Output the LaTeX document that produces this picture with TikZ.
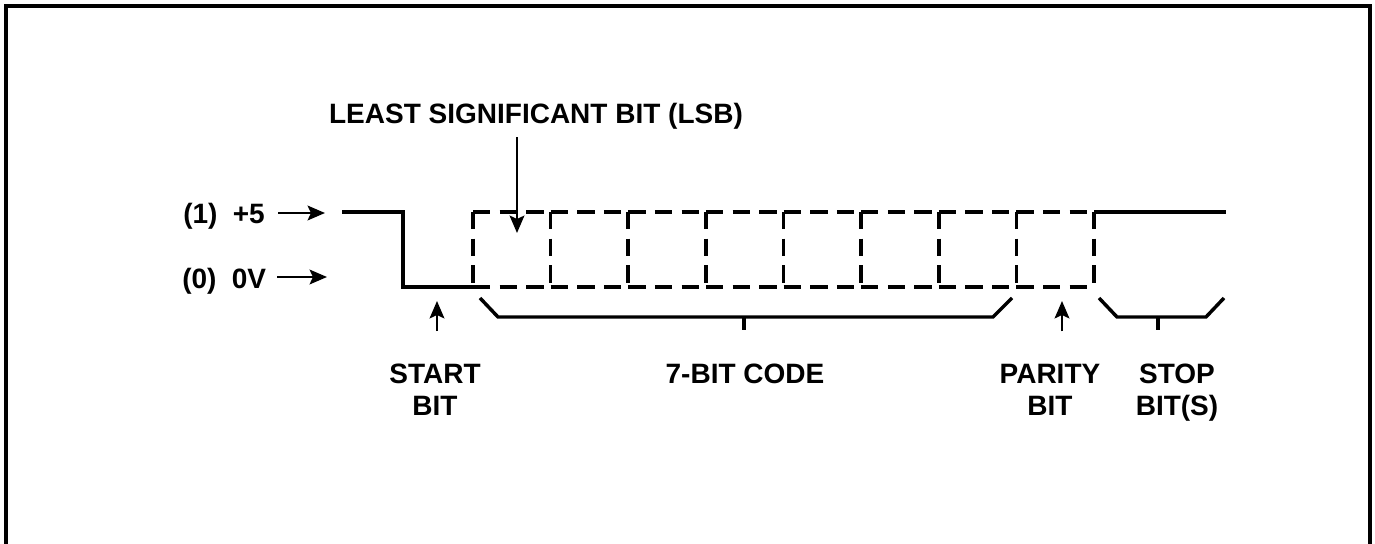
\documentclass[tikz,border=0pt]{standalone}
\usepackage{fontspec}
\setmainfont{Liberation Sans}
\usetikzlibrary{positioning,arrows.meta,calc}

\begin{document}
\begin{tikzpicture}[x=0.75pt, y=-0.75pt,
  font=\bfseries\fontsize{21}{24}\selectfont, >={Stealth[length=13pt,width=11pt,inset=2.5pt]},
  lbl/.style={inner sep=0pt, align=center},
  sig/.style={line width=2.8pt},
  bitline/.style={line width=2.8pt, dash pattern=on 13pt off 7pt},
  brk/.style={line width=2.6pt},
  ptr/.style={->, line width=2pt},
  frm/.style={line width=2.6pt}]
  \useasboundingbox (0,0) rectangle (1375,543);
  % frame
  \draw[frm] (6,560) -- (6,6) -- (1370,6) -- (1370,560);
  % level labels
  \node[lbl, anchor=base west] (hi) at (183,223) {(1)\hspace{0.55em}+5};
  \node[lbl, anchor=base west] (lo) at (182,288) {(0)\hspace{0.55em}0V};
  \coordinate (hiend) at (325,213);
  \coordinate (loend) at (327,277);
  \draw[ptr] ($(hiend -| hi.east)+(10pt,0)$) -- (hiend);
  \draw[ptr] ($(loend -| lo.east)+(8pt,0)$) -- (loend);
  % waveform
  \draw[sig] (342,212) -- (403,212) -- (403,287) -- (473,287);
  \draw[sig] (1094,212) -- (1226,212);
  \foreach \i in {0,...,7} {
    \draw[bitline] ({473+\i*77.625},212) -- ({473+(\i+1)*77.625},212);
    \draw[bitline] ({473+\i*77.625},287) -- ({473+(\i+1)*77.625},287);
  }
  \foreach \i in {0,...,8}
    \draw[bitline] ({473+\i*77.625},212) -- ({473+\i*77.625},287);
  % brackets
  \draw[brk] (480,298) -- (498,317) -- (993,317) -- (1012,298);
  \draw[brk] (744,317) -- (744,330);
  \draw[brk] (1099,298) -- (1117,317) -- (1206,317) -- (1224,298);
  \draw[brk] (1158,317) -- (1158,330);
  % labels
  \node[lbl, anchor=base] (lsb) at (536,123) {LEAST SIGNIFICANT BIT (LSB)};
  \node[lbl, anchor=base] (start) at (435,415) {START\\BIT};
  \node[lbl, anchor=base] (code) at (745,383) {7-BIT CODE};
  \node[lbl, anchor=base] (parity) at (1050,415) {PARITY\\BIT};
  \node[lbl, anchor=base] (stop) at (1177,415) {STOP\\BIT(S)};
  % pointers
  \coordinate (lsbtip) at (517,233);
  \coordinate (starttip) at (437,301);
  \coordinate (paritytip) at (1062,301);
  \draw[ptr] ($(lsbtip |- lsb.south)+(0,-6pt)$) -- (lsbtip);
  \draw[ptr] ($(starttip |- start.north)+(0,24pt)$) -- (starttip);
  \draw[ptr] ($(paritytip |- parity.north)+(0,24pt)$) -- (paritytip);
\end{tikzpicture}
\end{document}
